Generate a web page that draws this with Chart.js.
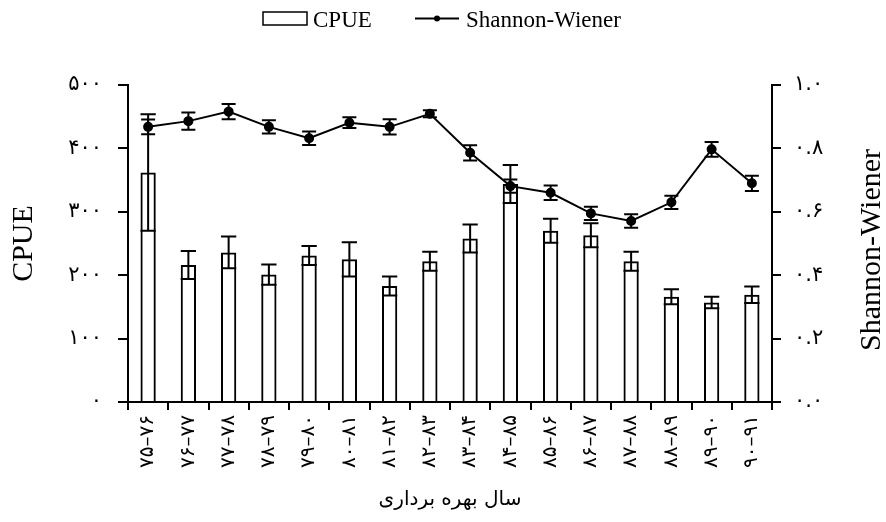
<!DOCTYPE html>
<html>
<head>
<meta charset="utf-8">
<script src="https://cdn.jsdelivr.net/npm/chart.js@4.4.1/dist/chart.umd.min.js"></script>
<style>
	html, body { margin: 0; padding: 0; background: #fff; }
	#wrap { width: 886px; height: 522px; position: relative; }
</style>
</head>
<body>
<div id="wrap"><canvas id="chart" width="886" height="522"></canvas></div>
<script>
( function () {
	'use strict';

	// fishing years (Persian calendar)
	const years = [
		'۷۵–۷۶', '۷۶–۷۷', '۷۷–۷۸', '۷۸–۷۹', '۷۹–۸۰', '۸۰–۸۱', '۸۱–۸۲', '۸۲–۸۳',
		'۸۳–۸۴', '۸۴–۸۵', '۸۵–۸۶', '۸۶–۸۷', '۸۷–۸۸', '۸۸–۸۹', '۸۹–۹۰', '۹۰–۹۱',
	];
	const cpue       = [ 362, 216, 236, 201, 231, 225, 183, 222, 258, 344, 270, 263, 222, 166, 157, 169 ];
	const cpueErr    = [ 92, 22, 25, 16, 15, 27, 15, 15, 22, 30, 19, 19, 15, 12, 9, 13 ];
	const shannon    = [ 0.868, 0.886, 0.916, 0.868, 0.832, 0.881, 0.868, 0.909, 0.786, 0.681, 0.660, 0.595, 0.571, 0.630, 0.797, 0.690 ];
	const shannonErr = [ 0.023, 0.027, 0.024, 0.021, 0.021, 0.017, 0.024, 0.011, 0.024, 0.021, 0.023, 0.021, 0.021, 0.021, 0.023, 0.024 ];

	const cpueTicks    = [ 0, 100, 200, 300, 400, 500 ];
	const shannonTicks = [ 0, 0.2, 0.4, 0.6, 0.8, 1.0 ];

	const SERIF = "'Liberation Serif', 'Times New Roman', 'DejaVu Serif', serif";
	const FA    = "'DejaVu Sans', sans-serif";
	const INK   = '#000';

	function fa( s ) {
		return String( s ).replace( /[0-9]/g, function ( d ) { return '۰۱۲۳۴۵۶۷۸۹'[ d ]; } );
	}

	function errCap( ctx, x, yTop, yBot, half ) {
		ctx.beginPath();
		ctx.moveTo( x, yTop );
		ctx.lineTo( x, yBot );
		ctx.moveTo( x - half, yTop );
		ctx.lineTo( x + half, yTop );
		ctx.moveTo( x - half, yBot );
		ctx.lineTo( x + half, yBot );
		ctx.stroke();
	}

	// error bars for both series, through the chart's own scales
	const errorBars = {
		id: 'errorBars',
		afterDatasetsDraw: function ( chart ) {
			const ctx = chart.ctx;
			const sx  = chart.scales.x;
			const sy  = chart.scales.y;
			const sy1 = chart.scales.y1;
			ctx.save();
			ctx.strokeStyle = INK;
			ctx.lineWidth   = 2;
			const barMeta = chart.getDatasetMeta( 1 );
			cpue.forEach( function ( v, i ) {
				const x    = sx.getPixelForValue( i );
				const half = barMeta.data[ i ].width / 2;
				errCap( ctx, x, sy.getPixelForValue( v + cpueErr[ i ] ), sy.getPixelForValue( v - cpueErr[ i ] ), half );
			} );
			shannon.forEach( function ( v, i ) {
				const x = sx.getPixelForValue( i );
				errCap( ctx, x, sy1.getPixelForValue( v + shannonErr[ i ] ), sy1.getPixelForValue( v - shannonErr[ i ] ), 7 );
			} );
			ctx.restore();
		},
	};

	// legend and axis titles
	const annotations = {
		id: 'annotations',
		afterDraw: function ( chart ) {
			const ctx  = chart.ctx;
			const area = chart.chartArea;
			ctx.save();
			ctx.fillStyle   = INK;
			ctx.strokeStyle = INK;

			// legend
			ctx.lineWidth = 1.5;
			ctx.strokeRect( 263, 12, 44, 13 );
			ctx.font         = '23px ' + SERIF;
			ctx.textBaseline = 'alphabetic';
			ctx.textAlign    = 'left';
			ctx.fillText( 'CPUE', 313, 27 );
			ctx.lineWidth = 2;
			ctx.beginPath();
			ctx.moveTo( 415, 18.5 );
			ctx.lineTo( 459, 18.5 );
			ctx.stroke();
			ctx.beginPath();
			ctx.arc( 437, 18.5, 3, 0, Math.PI * 2 );
			ctx.fill();
			ctx.fillText( 'Shannon-Wiener', 466, 27 );

			// y titles
			ctx.textAlign    = 'center';
			ctx.textBaseline = 'middle';
			ctx.font = '30px ' + SERIF;
			ctx.save();
			ctx.translate( 24, ( area.top + area.bottom ) / 2 );
			ctx.rotate( -Math.PI / 2 );
			ctx.fillText( 'CPUE', 0, 0 );
			ctx.restore();
			ctx.save();
			ctx.translate( 872, 250 );
			ctx.rotate( -Math.PI / 2 );
			ctx.fillText( 'Shannon-Wiener', 0, 0 );
			ctx.restore();

			// x title
			ctx.font = '20px ' + FA;
			ctx.fillText( 'سال بهره برداری', ( area.left + area.right ) / 2, 500 );
			ctx.restore();
		},
	};

	const tickGrid = { display: true, drawOnChartArea: false, drawTicks: true, tickLength: 10, color: INK, lineWidth: 2 };

	new Chart( document.getElementById( 'chart' ), {
		type: 'bar',
		data: {
			labels: years,
			datasets: [
				{
					type:                 'line',
					label:                'Shannon-Wiener',
					data:                 shannon,
					yAxisID:              'y1',
					borderColor:          INK,
					borderWidth:          2,
					pointRadius:          4,
					pointBackgroundColor: INK,
					pointBorderColor:     INK,
					tension:              0,
					order:                0,
				},
				{
					type:               'bar',
					label:              'CPUE',
					data:               cpue,
					yAxisID:            'y',
					backgroundColor:    'rgba(255,255,255,0)',
					borderColor:        INK,
					borderWidth:        2,
					barPercentage:      0.38,
					categoryPercentage: 1,
					order:              1,
				},
			],
		},
		options: {
			responsive:  false,
			animation:   false,
			layout:      { padding: { top: 85, left: 0, right: 0, bottom: 0 } },
			plugins: {
				legend:  { display: false },
				tooltip: { enabled: false },
			},
			scales: {
				x: {
					offset: true,
					grid:   Object.assign( {}, tickGrid, { offset: true, tickLength: 8 } ),
					border: { display: true, color: INK, width: 2 },
					ticks: {
						color:       INK,
						font:        { family: FA, size: 20 },
						minRotation: 90,
						maxRotation: 90,
						autoSkip:    false,
						padding:     5,
					},
					afterFit: function ( s ) { s.height = 120; },
				},
				y: {
					position: 'left',
					min:      0,
					max:      500,
					afterBuildTicks: function ( s ) { s.ticks = cpueTicks.map( function ( v ) { return { value: v }; } ); },
					grid:   tickGrid,
					border: { display: true, color: INK, width: 2 },
					ticks: {
						color:    INK,
						font:     { family: FA, size: 21 },
						padding:  16,
						callback: function ( v ) { return fa( v ); },
					},
					afterFit: function ( s ) { s.width = 128; },
				},
				y1: {
					position: 'right',
					min:      0,
					max:      1,
					afterBuildTicks: function ( s ) { s.ticks = shannonTicks.map( function ( v ) { return { value: v }; } ); },
					grid:   Object.assign( {}, tickGrid, { tickLength: 9 } ),
					border: { display: true, color: INK, width: 2 },
					ticks: {
						color:    INK,
						font:     { family: FA, size: 21 },
						padding:  13,
						callback: function ( v ) { return fa( v.toFixed( 1 ) ); },
					},
					afterFit: function ( s ) { s.width = 114; },
				},
			},
		},
		plugins: [ errorBars, annotations ],
	} );
} )();
</script>
</body>
</html>
